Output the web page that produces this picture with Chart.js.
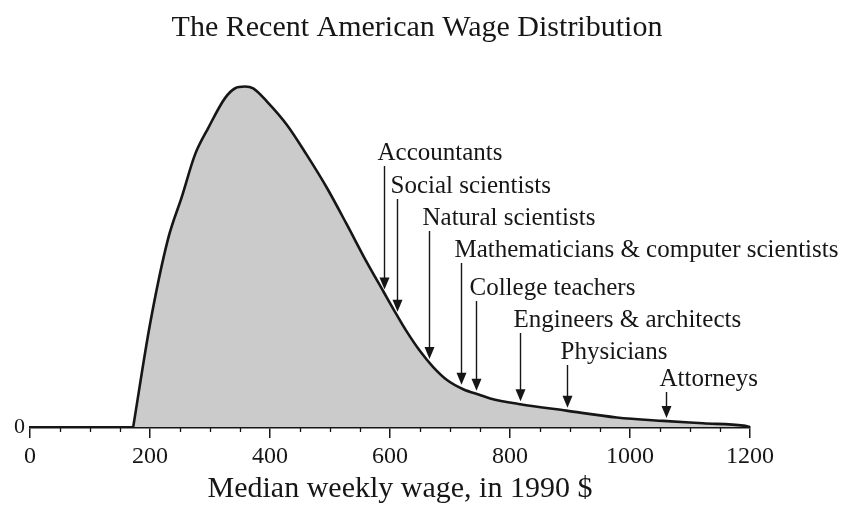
<!DOCTYPE html>
<html>
<head>
<meta charset="utf-8">
<title>The Recent American Wage Distribution</title>
<script src="https://cdn.jsdelivr.net/npm/chart.js@4.4.1/dist/chart.umd.min.js"></script>
<style>
  html, body { margin: 0; padding: 0; background: #fff; }
  #wrap { width: 851px; height: 506px; position: relative; }
</style>
</head>
<body>
<div id="wrap"><canvas id="chart"></canvas></div>
<script>
/* Wage distribution curve with occupation markers. Values read off the
   scanned figure; density is relative (peak = 100). */
(function () {
    "use strict";

    // Median weekly wage (1990 $) and relative density of workers.
    var wages = [172, 200, 230, 253, 275, 297, 325, 342, 358, 372, 395, 428,
        461, 495, 528, 561, 589, 611, 628, 650, 672, 695, 722, 750, 767, 817,
        894, 978, 1055, 1122, 1189, 1200];
    var density = [0, 30.2, 55.2, 67.6, 80.0, 87.8, 96.6, 99.5, 100, 99.5,
        95.6, 88.8, 80.0, 70.2, 59.5, 48.5, 39.8, 33.0, 28.0, 22.3, 17.6, 13.8,
        11.1, 9.4, 8.4, 6.7, 4.8, 2.8, 1.8, 1.1, 0.4, 0];

    // Occupations marked with arrows, and their median weekly wage.
    var occupations = ["Accountants", "Social scientists", "Natural scientists",
        "Mathematicians & computer scientists", "College teachers",
        "Engineers & architects", "Physicians", "Attorneys"];
    var occupationWages = [590, 611, 665, 718, 744, 817, 895, 1060];

    var xTicks = [0, 200, 400, 600, 800, 1000, 1200];

    var titleText = "The Recent American Wage Distribution";
    var xTitleText = "Median weekly wage, in 1990 $";

    var serif = "'Liberation Serif', 'Times New Roman', serif";
    var ink = "#161616";

    // label baselines for the staggered occupation names (layout only)
    var labelBaselines = [160, 193, 225, 257, 295, 327, 359, 386];

    function densityAt(w) {
        for (var i = 1; i < wages.length; i++) {
            if (w <= wages[i]) {
                var t = (w - wages[i - 1]) / (wages[i] - wages[i - 1]);
                return density[i - 1] + t * (density[i] - density[i - 1]);
            }
        }
        return 0;
    }

    var markers = {
        id: "markers",
        afterDraw: function (chart) {
            var ctx = chart.ctx;
            var xs = chart.scales.x;
            var ys = chart.scales.y;
            ctx.save();

            // minor ticks every 50
            ctx.strokeStyle = ink;
            ctx.lineWidth = 1.3;
            for (var v = 50; v < 1200; v += 50) {
                if (v % 200 === 0) {
                    continue;
                }
                var px = Math.round(xs.getPixelForValue(v)) + 0.5;
                ctx.beginPath();
                ctx.moveTo(px, ys.bottom);
                ctx.lineTo(px, ys.bottom + 5);
                ctx.stroke();
            }

            ctx.fillStyle = ink;
            ctx.textBaseline = "alphabetic";

            // titles sit a little right of the plot centre, as in the print
            ctx.textAlign = "center";
            ctx.font = "30px " + serif;
            ctx.fillText(titleText, 417, 36);
            ctx.fillText(xTitleText, 400, 497);

            ctx.font = "25px " + serif;
            ctx.textAlign = "left";
            occupations.forEach(function (name, i) {
                var x = Math.round(xs.getPixelForValue(occupationWages[i])) + 0.5;
                var tip = ys.getPixelForValue(densityAt(occupationWages[i])) - 3;
                var base = labelBaselines[i];
                ctx.fillText(name, x - 7, base);
                ctx.lineWidth = 1.4;
                ctx.beginPath();
                ctx.moveTo(x, base + 6);
                ctx.lineTo(x, tip - 8);
                ctx.stroke();
                ctx.beginPath();
                ctx.moveTo(x - 5, tip - 12);
                ctx.lineTo(x + 5, tip - 12);
                ctx.lineTo(x, tip);
                ctx.closePath();
                ctx.fill();
            });
            ctx.restore();
        }
    };

    new Chart(document.getElementById("chart"), {
        type: "line",
        data: {
            datasets: [{
                data: wages.map(function (w, i) {
                    return { x: w, y: density[i] };
                }),
                borderColor: ink,
                borderWidth: 2.6,
                backgroundColor: "#cbcbcb",
                fill: "origin",
                pointRadius: 0,
                cubicInterpolationMode: "monotone"
            }]
        },
        options: {
            responsive: true,
            maintainAspectRatio: false,
            animation: false,
            layout: { padding: { left: 0, right: 101, top: 60, bottom: 0 } },
            plugins: {
                legend: { display: false },
                tooltip: { enabled: false },
                title: { display: false }
            },
            scales: {
                x: {
                    type: "linear",
                    min: 0,
                    max: 1200,
                    afterBuildTicks: function (scale) {
                        scale.ticks = xTicks.map(function (v) {
                            return { value: v };
                        });
                    },
                    afterFit: function (scale) {
                        scale.height = 79;
                    },
                    ticks: {
                        color: ink,
                        padding: 4,
                        maxRotation: 0,
                        font: { family: serif, size: 24 },
                        callback: function (value) {
                            return String(value);
                        }
                    },
                    grid: {
                        display: true,
                        drawOnChartArea: false,
                        drawTicks: true,
                        tickLength: 11,
                        color: ink,
                        lineWidth: 1.5
                    },
                    border: { display: true, color: ink, width: 2.6 }
                },
                y: {
                    min: 0,
                    max: 107.8,
                    afterBuildTicks: function (scale) {
                        scale.ticks = [{ value: 0 }];
                    },
                    afterFit: function (scale) {
                        scale.width = 30;
                    },
                    ticks: {
                        color: ink,
                        padding: 5,
                        font: { family: serif, size: 22 }
                    },
                    grid: { display: false, drawTicks: false },
                    border: { display: false }
                }
            }
        },
        plugins: [markers]
    });
})();
</script>
</body>
</html>
